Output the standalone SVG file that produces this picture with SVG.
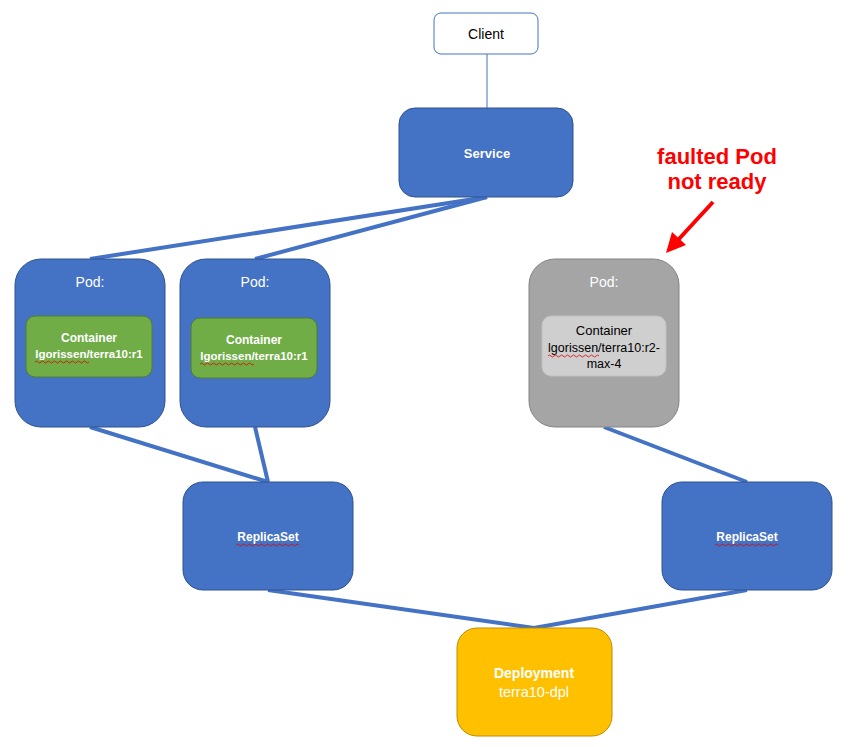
<svg xmlns="http://www.w3.org/2000/svg" width="851" height="747" viewBox="0 0 851 747">
<defs>
<style>
.blue{fill:#4472c4;stroke:#2f528f;stroke-width:1}
.green{fill:#70ad47;stroke:#507e32;stroke-width:1}
.gray{fill:#a5a5a5;stroke:#838383;stroke-width:1}
.lgray{fill:#cfcfcf;stroke:#c0c0c0;stroke-width:1}
.gold{fill:#ffc000;stroke:#bc8c00;stroke-width:1}
.conn{stroke:#4472c4;stroke-width:4;fill:none}
text{font-family:"Liberation Sans",Arial,sans-serif;text-anchor:middle}
.w{fill:#ffffff}
.b{font-weight:bold}
.k{fill:#000000}
.sq{fill:none;stroke:#e00000;stroke-width:0.8}
</style>
</defs>
<rect width="851" height="747" fill="#ffffff"/>
<g id="connectors">
<line x1="487" y1="54" x2="487" y2="108" stroke="#4472c4" stroke-width="1"/>
<line class="conn" x1="487" y1="197" x2="90" y2="259"/>
<line class="conn" x1="487" y1="197" x2="255" y2="259"/>
<line class="conn" x1="90" y1="427" x2="268" y2="482"/>
<line class="conn" x1="255" y1="427" x2="268" y2="482"/>
<line class="conn" x1="604" y1="427" x2="747" y2="482"/>
<line class="conn" x1="268" y1="590" x2="534" y2="628"/>
<line class="conn" x1="747" y1="590" x2="534" y2="628"/>
</g>
<g id="client">
<rect x="434" y="13" width="104" height="41" rx="7" fill="#ffffff" stroke="#4472c4" stroke-width="1"/>
<text x="486" y="39" font-size="14" class="k">Client</text>
</g>
<g id="service">
<rect class="blue" x="399" y="108" width="174" height="89" rx="16"/>
<text x="487" y="158" font-size="13" class="w b">Service</text>
</g>
<g id="pod1">
<rect class="blue" x="15" y="259" width="150" height="168" rx="26"/>
<text x="90" y="287" font-size="14" class="w">Pod:</text>
<g id="container1">
<rect class="green" x="26" y="316" width="126" height="61" rx="9"/>
<text x="89" y="342" font-size="12" class="w b">Container</text>
<text x="89" y="358" font-size="11.5" class="w b">lgorissen/terra10:r1</text>
<path class="sq" d="M35 362 q1.5 -2 3 0 t3 0 t3 0 t3 0 t3 0 t3 0 t3 0 t3 0 t3 0 t3 0 t3 0 t3 0 t3 0 t3 0 t3 0 t3 0 t3 0 t3 0"/>
</g>
</g>
<g id="pod2">
<rect class="blue" x="180" y="259" width="150" height="168" rx="26"/>
<text x="255" y="287" font-size="14" class="w">Pod:</text>
<g id="container2">
<rect class="green" x="191" y="318" width="126" height="60" rx="9"/>
<text x="254" y="344" font-size="12" class="w b">Container</text>
<text x="254" y="360" font-size="11.5" class="w b">lgorissen/terra10:r1</text>
<path class="sq" d="M200 364 q1.5 -2 3 0 t3 0 t3 0 t3 0 t3 0 t3 0 t3 0 t3 0 t3 0 t3 0 t3 0 t3 0 t3 0 t3 0 t3 0 t3 0 t3 0 t3 0"/>
</g>
</g>
<g id="pod3">
<rect class="gray" x="529" y="259" width="150" height="168" rx="26"/>
<text x="604" y="287" font-size="14" class="w">Pod:</text>
<g id="container3">
<rect class="lgray" x="542" y="316" width="124" height="60" rx="9"/>
<text x="604" y="335" font-size="13" class="k">Container</text>
<text x="604" y="352" font-size="12.5" class="k">lgorissen/terra10:r2-</text>
<text x="604" y="368" font-size="12.5" class="k">max-4</text>
<path class="sq" d="M548 356 q1.5 -2 3 0 t3 0 t3 0 t3 0 t3 0 t3 0 t3 0 t3 0 t3 0 t3 0 t3 0 t3 0 t3 0 t3 0 t3 0 t3 0 t3 0"/>
</g>
</g>
<g id="replicaset1">
<rect class="blue" x="183" y="482" width="170" height="108" rx="20"/>
<text x="268" y="541" font-size="12" class="w b">ReplicaSet</text>
<path class="sq" d="M236 545 q1.5 -2 3 0 t3 0 t3 0 t3 0 t3 0 t3 0 t3 0 t3 0 t3 0 t3 0 t3 0 t3 0 t3 0 t3 0 t3 0 t3 0 t3 0 t3 0 t3 0 t3 0 t3 0"/>
</g>
<g id="replicaset2">
<rect class="blue" x="662" y="482" width="170" height="108" rx="20"/>
<text x="747" y="541" font-size="12" class="w b">ReplicaSet</text>
<path class="sq" d="M715 545 q1.5 -2 3 0 t3 0 t3 0 t3 0 t3 0 t3 0 t3 0 t3 0 t3 0 t3 0 t3 0 t3 0 t3 0 t3 0 t3 0 t3 0 t3 0 t3 0 t3 0 t3 0 t3 0"/>
</g>
<g id="deployment">
<rect class="gold" x="457" y="628" width="155" height="108" rx="20"/>
<text x="534" y="678" font-size="14" class="w b">Deployment</text>
<text x="534" y="697" font-size="14.5" class="w">terra10-dpl</text>
</g>
<g id="annotation">
<text x="717" y="164" font-size="22" class="b" fill="#ff0000">faulted Pod</text>
<text x="717" y="189" font-size="22" class="b" fill="#ff0000">not ready</text>
<line x1="713" y1="202" x2="678" y2="240" stroke="#ff0000" stroke-width="4"/>
<polygon points="666,253 672,232 686,245" fill="#ff0000"/>
</g>
</svg>
